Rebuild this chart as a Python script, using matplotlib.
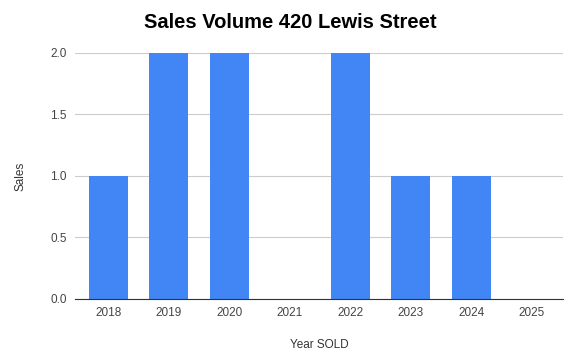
import matplotlib
matplotlib.use("Agg")
import matplotlib.pyplot as plt

# data
years = ["2018", "2019", "2020", "2021", "2022", "2023", "2024", "2025"]
sales = [1, 2, 2, 0, 2, 1, 1, 0]
y_ticks = [0.0, 0.5, 1.0, 1.5, 2.0]

plt.rcParams['font.family'] = ['Liberation Sans', 'DejaVu Sans']

fig = plt.figure(figsize=(5.77, 3.58), dpi=100)
ax = fig.add_axes([0.130, 0.165, 0.846, 0.687])

x = range(len(years))
ax.bar(x, sales, width=0.645, color="#4285F4", zorder=3)

ax.set_xlim(-0.55, 7.52)
ax.set_ylim(0, 2.0)
ax.set_yticks(y_ticks)
ax.set_yticklabels(["%.1f" % v for v in y_ticks])
ax.set_xticks(list(x))
ax.set_xticklabels(years)

ax.grid(axis="y", color="#cccccc", linewidth=0.8, zorder=0)
for s in ["top", "right", "left"]:
    ax.spines[s].set_visible(False)
ax.spines["bottom"].set_color("#333333")
ax.spines["bottom"].set_zorder(4)
ax.tick_params(axis="both", length=0, labelsize=8.5, colors="#444444", pad=6)

fig.suptitle("Sales Volume 420 Lewis Street", x=0.503, y=0.965, fontsize=14.5,
             fontweight="bold", color="#000000")
ax.set_xlabel("Year SOLD", fontsize=8.5, color="#333333", labelpad=14)
ax.set_ylabel("Sales", fontsize=8.5, color="#333333", labelpad=17)

fig.savefig("out.png", dpi=100)
